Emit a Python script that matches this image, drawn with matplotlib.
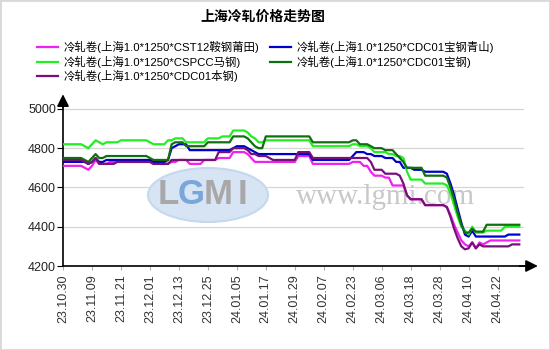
import matplotlib
matplotlib.use('Agg')
import matplotlib.pyplot as plt
import numpy as np
from matplotlib.patches import Ellipse, Rectangle

plt.rcParams['font.family'] = ['Liberation Sans', 'Noto Sans CJK SC']

# one label every 8 trading days
date_labels = ['23.10.30', '23.11.09', '23.11.21', '23.12.01', '23.12.13', '23.12.25',
               '24.01.05', '24.01.17', '24.01.29', '24.02.07', '24.02.23', '24.03.06',
               '24.03.18', '24.03.28', '24.04.10', '24.04.22']

# CST12 鞍钢莆田
anshan = [4710, 4710, 4710, 4710, 4710, 4710, 4700, 4690, 4710, 4740,
          4720, 4720, 4720, 4730, 4730, 4730, 4730, 4730, 4730, 4730,
          4730, 4730, 4730, 4730, 4730, 4720, 4720, 4720, 4720, 4720,
          4730, 4730, 4740, 4740, 4740, 4720, 4720, 4720, 4720, 4740,
          4740, 4740, 4740, 4750, 4750, 4750, 4750, 4780, 4780, 4780,
          4780, 4770, 4750, 4730, 4730, 4730, 4730, 4730, 4730, 4730,
          4730, 4730, 4730, 4730, 4730, 4760, 4760, 4760, 4760, 4720,
          4720, 4720, 4720, 4720, 4720, 4720, 4720, 4720, 4720, 4720,
          4730, 4730, 4730, 4710, 4710, 4680, 4660, 4660, 4660, 4650,
          4650, 4610, 4610, 4610, 4610, 4560, 4540, 4540, 4540, 4540,
          4510, 4510, 4510, 4510, 4510, 4510, 4500, 4460, 4410, 4370,
          4330, 4310, 4300, 4320, 4290, 4320, 4310, 4320, 4330, 4330,
          4330, 4330, 4330, 4330, 4330, 4330, 4330]

# CDC01 宝钢青山
qingshan = [4730, 4730, 4730, 4730, 4730, 4730, 4730, 4720, 4730, 4750,
            4730, 4730, 4740, 4740, 4740, 4740, 4740, 4740, 4740, 4740,
            4740, 4740, 4740, 4740, 4740, 4730, 4730, 4730, 4730, 4740,
            4800, 4810, 4820, 4820, 4820, 4790, 4790, 4790, 4790, 4790,
            4790, 4790, 4790, 4790, 4790, 4790, 4790, 4800, 4810, 4810,
            4810, 4800, 4790, 4780, 4770, 4770, 4770, 4770, 4770, 4770,
            4770, 4770, 4770, 4770, 4770, 4770, 4770, 4770, 4770, 4740,
            4740, 4740, 4740, 4740, 4740, 4740, 4740, 4740, 4740, 4740,
            4760, 4780, 4780, 4780, 4770, 4770, 4760, 4760, 4760, 4750,
            4750, 4750, 4730, 4730, 4700, 4700, 4700, 4690, 4690, 4690,
            4680, 4680, 4680, 4680, 4680, 4680, 4670, 4620, 4560, 4490,
            4420, 4360, 4350, 4380, 4350, 4350, 4350, 4350, 4350, 4350,
            4350, 4350, 4350, 4360, 4360, 4360, 4360]

# CSPCC 马钢
magang = [4820, 4820, 4820, 4820, 4820, 4820, 4810, 4800, 4820, 4840,
          4830, 4820, 4830, 4830, 4830, 4830, 4840, 4840, 4840, 4840,
          4840, 4840, 4840, 4840, 4830, 4820, 4820, 4820, 4820, 4840,
          4840, 4850, 4850, 4850, 4830, 4830, 4830, 4830, 4830, 4830,
          4850, 4850, 4850, 4850, 4860, 4860, 4860, 4890, 4890, 4890,
          4890, 4880, 4860, 4850, 4830, 4830, 4840, 4840, 4840, 4840,
          4840, 4840, 4840, 4840, 4840, 4840, 4840, 4840, 4840, 4810,
          4810, 4810, 4810, 4810, 4810, 4810, 4810, 4810, 4810, 4810,
          4820, 4820, 4810, 4810, 4810, 4800, 4780, 4780, 4780, 4780,
          4770, 4770, 4760, 4760, 4750, 4680, 4640, 4640, 4640, 4640,
          4620, 4620, 4620, 4620, 4620, 4620, 4610, 4570, 4510, 4450,
          4400, 4380, 4360, 4400, 4370, 4370, 4370, 4380, 4380, 4380,
          4380, 4380, 4400, 4400, 4400, 4400, 4400]

# CDC01 宝钢
baogang = [4750, 4750, 4750, 4750, 4750, 4750, 4740, 4730, 4750, 4770,
           4750, 4750, 4760, 4760, 4760, 4760, 4760, 4760, 4760, 4760,
           4760, 4760, 4760, 4760, 4750, 4740, 4740, 4740, 4740, 4740,
           4820, 4830, 4830, 4830, 4810, 4810, 4810, 4810, 4810, 4810,
           4830, 4830, 4830, 4830, 4830, 4830, 4830, 4860, 4860, 4860,
           4860, 4850, 4830, 4810, 4800, 4800, 4860, 4860, 4860, 4860,
           4860, 4860, 4860, 4860, 4860, 4860, 4860, 4860, 4860, 4830,
           4830, 4830, 4830, 4830, 4830, 4830, 4830, 4830, 4830, 4830,
           4840, 4840, 4820, 4820, 4820, 4810, 4800, 4800, 4800, 4790,
           4790, 4790, 4770, 4750, 4730, 4700, 4700, 4700, 4700, 4700,
           4660, 4660, 4660, 4660, 4660, 4660, 4650, 4600, 4540, 4470,
           4410, 4370, 4370, 4390, 4375, 4375, 4375, 4410, 4410, 4410,
           4410, 4410, 4410, 4410, 4410, 4410, 4410]

# CDC01 本钢
bengang = [4740, 4740, 4740, 4740, 4740, 4740, 4730, 4720, 4730, 4750,
           4720, 4720, 4720, 4720, 4720, 4730, 4730, 4730, 4730, 4730,
           4730, 4730, 4730, 4730, 4730, 4720, 4720, 4720, 4720, 4720,
           4740, 4740, 4740, 4740, 4740, 4740, 4740, 4740, 4740, 4740,
           4740, 4740, 4740, 4780, 4780, 4780, 4780, 4800, 4800, 4800,
           4800, 4790, 4770, 4770, 4760, 4760, 4760, 4750, 4740, 4740,
           4740, 4740, 4740, 4740, 4740, 4780, 4780, 4780, 4780, 4750,
           4750, 4750, 4750, 4750, 4750, 4750, 4750, 4750, 4750, 4750,
           4750, 4750, 4750, 4750, 4750, 4730, 4690, 4690, 4690, 4670,
           4670, 4670, 4670, 4660, 4620, 4560, 4540, 4540, 4540, 4540,
           4510, 4510, 4510, 4510, 4510, 4510, 4500, 4450, 4390, 4340,
           4300, 4285, 4290, 4320, 4290, 4310, 4300, 4300, 4300, 4300,
           4300, 4300, 4300, 4300, 4310, 4310, 4310]

names = ['冷轧卷(上海1.0*1250*CST12鞍钢莆田)', '冷轧卷(上海1.0*1250*CDC01宝钢青山)',
         '冷轧卷(上海1.0*1250*CSPCC马钢)', '冷轧卷(上海1.0*1250*CDC01宝钢)',
         '冷轧卷(上海1.0*1250*CDC01本钢)']
colors = ['#ee22ee', '#0000cc', '#22ee22', '#107010', '#771177']
series = [anshan, qingshan, magang, baogang, bengang]

x = np.arange(len(anshan))

fig = plt.figure(figsize=(5.5, 3.5), dpi=100)
ax = fig.add_axes([63 / 550, 1 - 266 / 350, (524 - 63) / 550, (266 - 104) / 350])
ax.patch.set_alpha(0)

handles = []
for vals, name, c in zip(series, names, colors):
    h, = ax.plot(x, vals, color=c, lw=1.6, label=name, zorder=3)
    handles.append(h)

ax.set_xlim(0, 127.3)
ax.set_ylim(4200, 5025)
ax.set_yticks([4200, 4400, 4600, 4800, 5000])
ax.set_xticks(x[::8])
ax.set_xticklabels(date_labels, rotation=90, fontsize=9, color='#333333')
ax.tick_params(axis='y', labelsize=9, length=4, pad=1, labelcolor='#222222')
ax.tick_params(axis='x', length=3, color='#b0b0b0', pad=3)
ax.grid(axis='y', color='#d6d6d6', lw=0.9, zorder=0)
ax.set_axisbelow(True)

for s in ['top', 'right']:
    ax.spines[s].set_visible(False)
for s in ['left', 'bottom']:
    ax.spines[s].set_linewidth(1.2)

# axis arrows
arrow = dict(arrowstyle='-|>', color='k', lw=1.2, mutation_scale=18, shrinkA=0, shrinkB=0)
ax.annotate('', xy=(1.03, 0), xytext=(0.99, 0), xycoords='axes fraction', arrowprops=arrow)
ax.annotate('', xy=(0, 1.06), xytext=(0, 0.98), xycoords='axes fraction', arrowprops=arrow)

# watermark
ax.add_patch(Ellipse((208 / 550, 1 - 195 / 350), 120 / 550, 54 / 350, transform=fig.transFigure,
                     facecolor='#d6e4f4', edgecolor='#c4d8ee', lw=1.5, zorder=1, clip_on=False))
for letter, lx, lc in [('L', 168, '#a8a8a8'), ('G', 191, '#7aa6dc'), ('M', 218, '#a8a8a8'),
                       ('I', 243, '#a8a8a8')]:
    ax.text(lx / 550, 1 - 195 / 350, letter, transform=fig.transFigure, ha='center', va='center',
            fontsize=25, fontweight='bold', color=lc, zorder=1.5)
ax.text(385 / 550, 1 - 197 / 350, 'www.lgmi.com', transform=fig.transFigure, ha='center',
        va='center', family='Liberation Serif', fontsize=21, color='#c8c8c8', zorder=1.5)

# legend (column-first order)
order = [0, 2, 4, 1, 3]
fig.legend([handles[i] for i in order], [names[i] for i in order], ncol=2, loc='upper left',
           bbox_to_anchor=(37 / 550, 1 - 41 / 350), frameon=False, fontsize=8.2,
           handlelength=1.8, handletextpad=0.5, columnspacing=1.0, labelspacing=0.2,
           borderpad=0, borderaxespad=0)

fig.text(0.477, 1 - 17 / 350, '上海冷轧价格走势图', ha='center', va='center',
         fontsize=10, fontweight='bold')

fig.patches.append(Rectangle((0, 0), 1, 1, transform=fig.transFigure, fill=False,
                             edgecolor='#d8d8d8', lw=2))

fig.savefig('out.png', dpi=100)
